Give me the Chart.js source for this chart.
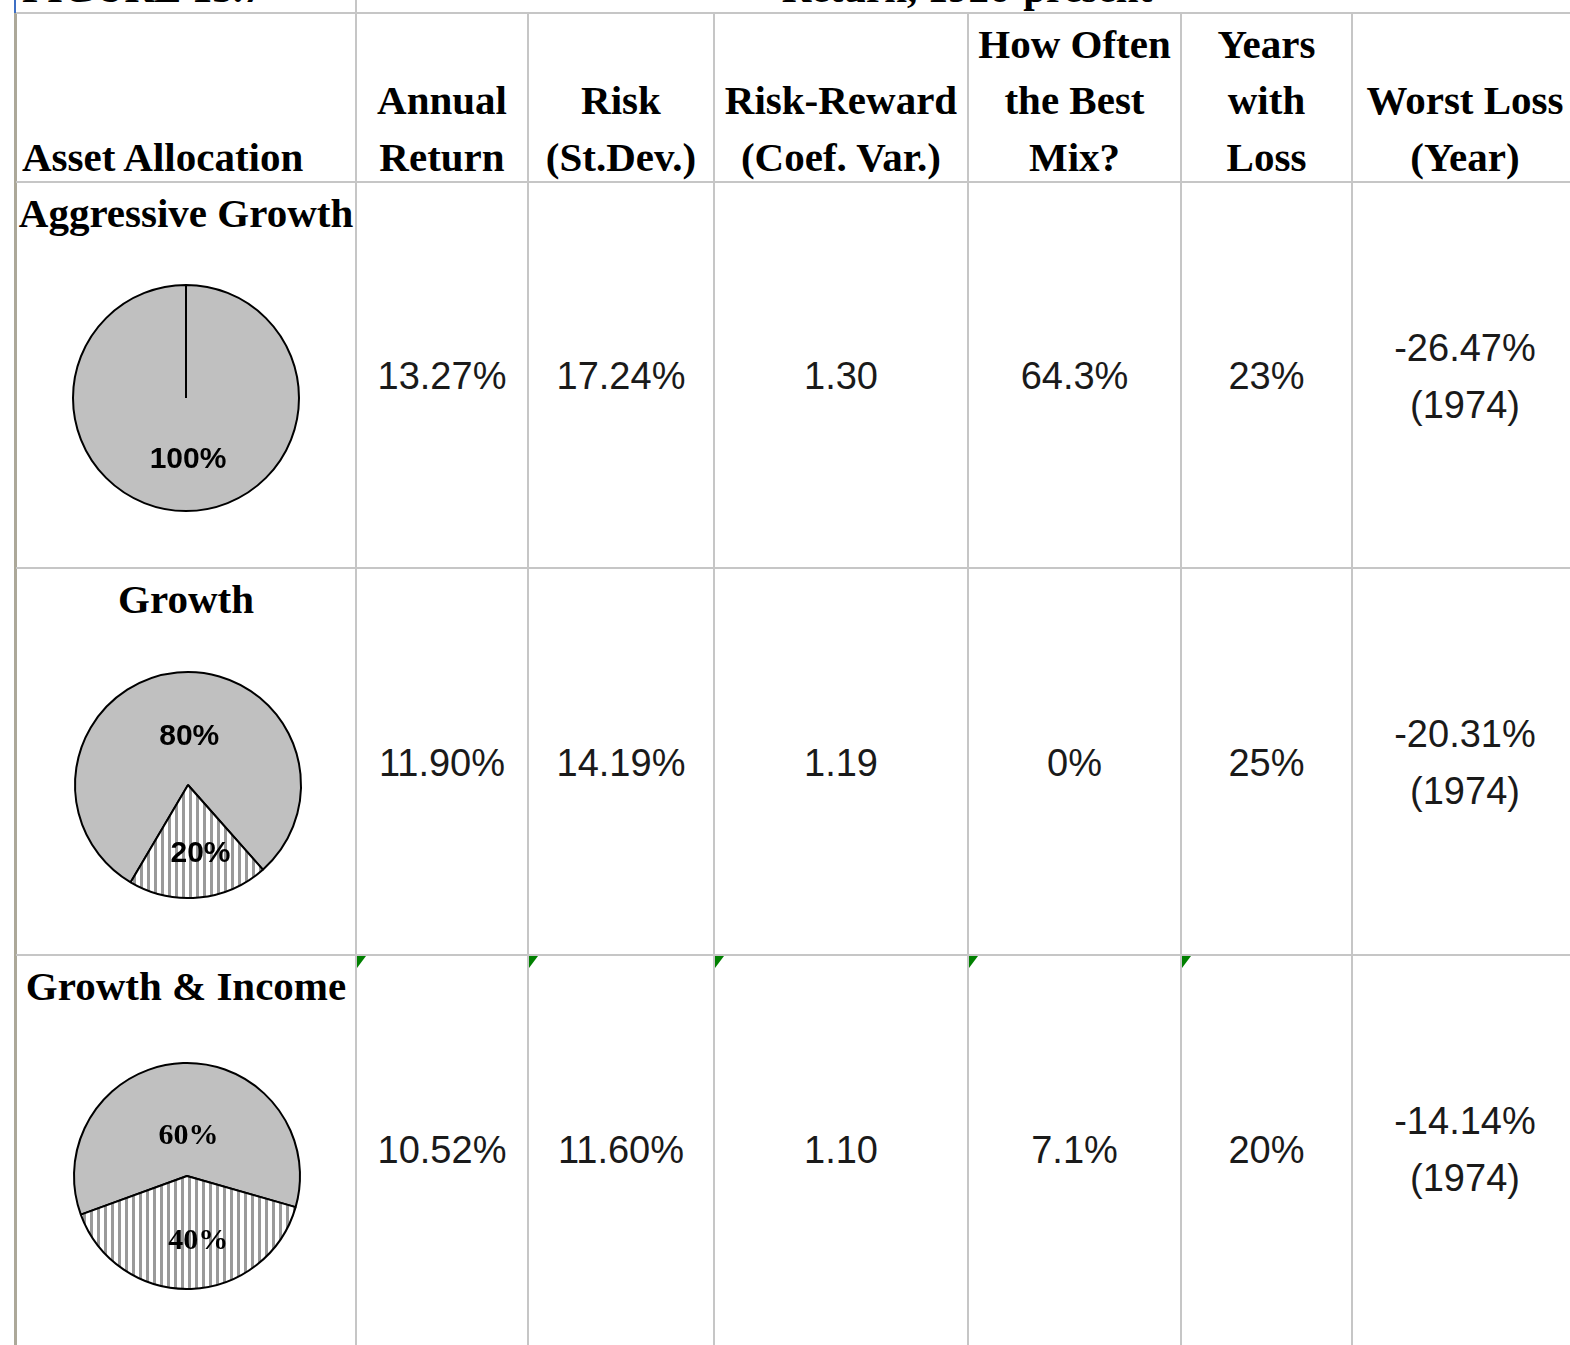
<!DOCTYPE html>
<html>
<head>
<meta charset="utf-8">
<title>Asset Allocation</title>
<script src="https://cdn.jsdelivr.net/npm/chart.js@4.4.1/dist/chart.umd.min.js"></script>
<style>
  html, body { margin: 0; padding: 0; background: #fff; width: 1570px; height: 1345px; overflow: hidden; }
  #sheet { position: relative; width: 1570px; height: 1345px; overflow: hidden; }
  .vl { position: absolute; width: 2px; background: #c6c6c6; }
  .hl { position: absolute; height: 2px; background: #c6c6c6; }
  .hd { position: absolute; font-family: "Liberation Serif", "Times New Roman", serif; font-weight: bold;
        font-size: 41px; line-height: 56.5px; color: #000; white-space: nowrap; }
  .val { position: absolute; font-family: "Liberation Sans", Arial, sans-serif; font-size: 38px;
         line-height: 57px; color: #1a1a1a; text-align: center; white-space: nowrap; }
  .pie { position: absolute; }
  .note { position: absolute; width: 0; height: 0; border-top: 12px solid #008000; border-right: 9px solid transparent; }
</style>
</head>
<body>
<div id="sheet"></div>
<script>
// ---- data ----
const categories = ["Aggressive Growth", "Growth", "Growth & Income"];
const stockShare = [100, 80, 60];
const bondShare = [0, 20, 40];
const annualReturn = [13.27, 11.90, 10.52];
const riskStdDev = [17.24, 14.19, 11.60];
const coefVar = [1.30, 1.19, 1.10];
const bestMixShare = [64.3, 0, 7.1];
const lossYearsShare = [23, 25, 20];
const worstLoss = [-26.47, -20.31, -14.14];
const worstLossYear = [1974, 1974, 1974];
const headerLines = [
  ["Asset Allocation"],
  ["Annual", "Return"],
  ["Risk", "(St.Dev.)"],
  ["Risk-Reward", "(Coef. Var.)"],
  ["How Often", "the Best", "Mix?"],
  ["Years", "with", "Loss"],
  ["Worst Loss", "(Year)"]
];
const figureLabel = "FIGURE 15.7";
const figureTitle = "Return, 1926-present";

// ---- layout of the sheet ----
const colEdges = [15, 356, 528, 714, 968, 1181, 1352, 1578];
const rowEdges = [13, 182, 568, 955, 1342];
const pieCenters = [[186, 397.5], [188, 784.5], [186.5, 1176]];
const pieRotation = [0, 210.5, 250];
const labelDepth = [[0.535, 0], [0.44, 0.6], [0.36, 0.57]];
const labelNudge = [[2, 0], [6, 6], [3, 9]];
const labelFamily = ['"Liberation Sans", Arial', '"Liberation Sans", Arial', '"Liberation Serif", "Times New Roman"'];

const sheet = document.getElementById('sheet');
function el(cls, css, text) {
  const d = document.createElement('div');
  d.className = cls;
  Object.assign(d.style, css);
  if (text !== undefined) d.textContent = text;
  sheet.appendChild(d);
  return d;
}

// grid lines
el('vl', { left: '14px', top: '0px', height: '13px', background: '#3d6fc4' });
el('vl', { left: '14px', top: '13px', height: '1332px', width: '3px', background: '#aca899' });
el('vl', { left: (colEdges[1] - 1) + 'px', top: '0px', height: '1345px' });
for (let c = 2; c < colEdges.length - 1; c++) {
  el('vl', { left: (colEdges[c] - 1) + 'px', top: rowEdges[0] + 'px', height: (1345 - rowEdges[0]) + 'px' });
}
for (let r = 0; r < rowEdges.length - 1; r++) {
  el('hl', { left: '16px', top: (rowEdges[r] - 1) + 'px', width: '1560px' });
}

// title row, scrolled mostly out of view
el('hd', { left: '22px', top: (2 - 42) + 'px' }, figureLabel);
el('hd', { left: colEdges[1] + 'px', width: (colEdges[7] - colEdges[1]) + 'px', top: (2 - 42) + 'px', textAlign: 'center' }, figureTitle);

// column headers, bottom aligned in the header row
headerLines.forEach((lines, c) => {
  const top = 185.25 - lines.length * 56.5;
  const css = { top: top + 'px' };
  if (c === 0) { css.left = '22px'; }
  else { css.left = colEdges[c] + 'px'; css.width = (colEdges[c + 1] - colEdges[c]) + 'px'; css.textAlign = 'center'; }
  el('hd', css).innerHTML = lines.join('<br>');
});

// row labels
categories.forEach((name, r) => {
  el('hd', { left: '0px', width: '372px', textAlign: 'center', top: (rowEdges[r + 1] + 3) + 'px' }, name);
});

// value cells
const pct2 = v => v.toFixed(2) + '%';
const columns = [
  annualReturn.map(pct2),
  riskStdDev.map(pct2),
  coefVar.map(v => v.toFixed(2)),
  bestMixShare.map(v => (v === 0 ? '0%' : v.toFixed(1) + '%')),
  lossYearsShare.map(v => v + '%'),
  worstLoss.map((v, i) => pct2(v) + '\n(' + worstLossYear[i] + ')')
];
columns.forEach((vals, k) => {
  const c = k + 1;
  vals.forEach((txt, r) => {
    const lines = txt.split('\n');
    const mid = (rowEdges[r + 1] + rowEdges[r + 2]) / 2 + 1.5;
    const d = el('val', {
      left: colEdges[c] + 'px', width: (colEdges[c + 1] - colEdges[c]) + 'px',
      top: (mid - lines.length * 28.5) + 'px'
    });
    d.innerHTML = lines.join('<br>');
  });
});

// comment markers on the last row
for (let c = 1; c <= 5; c++) {
  el('note', { left: (colEdges[c] + 1) + 'px', top: (rowEdges[3] + 1) + 'px' });
}

// ---- pies ----
function stripePattern(ctx) {
  const c = document.createElement('canvas');
  c.width = 14; c.height = 4;
  const g = c.getContext('2d');
  g.fillStyle = '#fff'; g.fillRect(0, 0, 14, 4);
  g.fillStyle = '#9a9a9a';
  g.fillRect(0, 0, 3, 4);
  g.fillRect(7, 0, 3, 4);
  return ctx.createPattern(c, 'repeat');
}

const sliceLabels = {
  id: 'sliceLabels',
  afterDatasetsDraw(chart, args, opts) {
    const ctx = chart.ctx;
    const meta = chart.getDatasetMeta(0);
    const values = chart.data.datasets[0].data;
    ctx.save();
    ctx.font = 'bold 30px ' + opts.family;
    ctx.fillStyle = '#000';
    ctx.textAlign = 'center';
    ctx.textBaseline = 'middle';
    meta.data.forEach((arc, i) => {
      if (!values[i]) return;
      const p = arc.getProps(['x', 'y', 'startAngle', 'endAngle', 'outerRadius']);
      const mid = (p.startAngle + p.endAngle) / 2;
      const d = p.outerRadius * opts.depth[i];
      ctx.fillText(values[i] + '%', p.x + Math.cos(mid) * d + opts.nudge[i], p.y + Math.sin(mid) * d + 1);
    });
    ctx.restore();
  }
};

categories.forEach((name, r) => {
  const size = 250;
  const cv = document.createElement('canvas');
  cv.width = size; cv.height = size;
  cv.className = 'pie';
  cv.style.left = (pieCenters[r][0] - size / 2) + 'px';
  cv.style.top = (pieCenters[r][1] - size / 2) + 'px';
  cv.style.width = size + 'px'; cv.style.height = size + 'px';
  sheet.appendChild(cv);
  const ctx = cv.getContext('2d');
  new Chart(ctx, {
    type: 'pie',
    data: {
      labels: ['Stocks', 'Bonds'],
      datasets: [{
        data: [stockShare[r], bondShare[r]],
        backgroundColor: ['#c0c0c0', stripePattern(ctx)],
        borderColor: '#000',
        borderWidth: 2
      }]
    },
    options: {
      responsive: false,
      animation: false,
      events: [],
      rotation: pieRotation[r],
      layout: { padding: 11 },
      plugins: {
        legend: { display: false },
        tooltip: { enabled: false },
        sliceLabels: { depth: labelDepth[r], family: labelFamily[r], nudge: labelNudge[r] }
      }
    },
    plugins: [sliceLabels]
  });
});
</script>
</body>
</html>
